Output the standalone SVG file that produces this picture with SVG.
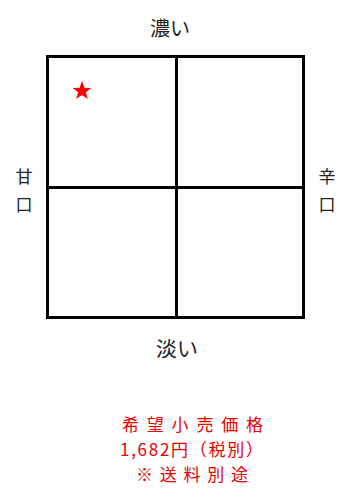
<svg xmlns="http://www.w3.org/2000/svg" width="344" height="494" viewBox="0 0 344 494">
<style>
.lbl{font-family:"Noto Sans CJK JP","Noto Sans CJK SC",sans-serif;fill:#222;}
.red{font-family:"Noto Sans CJK JP","Noto Sans CJK SC",sans-serif;fill:#e60000;font-size:17px;}
.ln{stroke:#000;stroke-width:3;fill:none;}
</style>
<rect width="344" height="494" fill="#fff"/>
<g id="grid">
<rect class="ln" x="47.5" y="56.5" width="256" height="261"/>
</g>
<g id="connectors">
<line class="ln" x1="176.5" y1="56.5" x2="176.5" y2="317.5"/>
<line class="ln" x1="47.5" y1="187.5" x2="303.5" y2="187.5"/>
</g>
<g id="star">
<polygon fill="#f00" points="82,81 84.4,87.8 91.5,87.9 85.8,92.2 87.9,99 82,95 76.1,99 78.2,92.2 72.5,87.9 79.6,87.8"/>
</g>
<g id="top"><text class="lbl" x="170" y="36" font-size="20" text-anchor="middle">濃い</text></g>
<g id="left"><text class="lbl" x="24" y="183" font-size="17" text-anchor="middle">甘</text><text class="lbl" x="24" y="211" font-size="17" text-anchor="middle">口</text></g>
<g id="right"><text class="lbl" x="327" y="183" font-size="17" text-anchor="middle">辛</text><text class="lbl" x="327" y="211" font-size="17" text-anchor="middle">口</text></g>
<g id="bottom"><text class="lbl" x="177" y="356" font-size="21" text-anchor="middle">淡い</text></g>
<g id="price">
<text class="red" x="122" y="431" textLength="141" lengthAdjust="spacing">希望小売価格</text>
<text class="red" x="120" y="456" textLength="143" lengthAdjust="spacing">1,682円（税別）</text>
<text class="red" x="136" y="481" textLength="112" lengthAdjust="spacing">※送料別途</text>
</g>
</svg>
